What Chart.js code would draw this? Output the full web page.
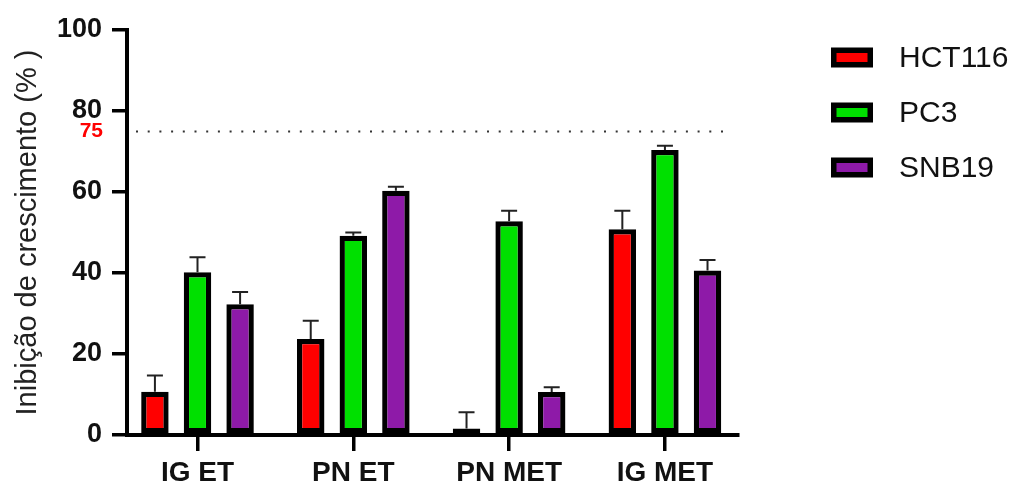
<!DOCTYPE html>
<html>
<head>
<meta charset="utf-8">
<script src="https://cdn.jsdelivr.net/npm/chart.js@4.4.1/dist/chart.umd.min.js"></script>
<style>
  html, body { margin: 0; padding: 0; background: #fff; }
  #wrap { width: 1017px; height: 485px; position: relative; }
</style>
</head>
<body>
<div id="wrap"><canvas id="c" width="1017" height="485"></canvas></div>
<script>
const categories = ['IG ET', 'PN ET', 'PN MET', 'IG MET'];
const seriesNames = ['HCT116', 'PC3', 'SNB19'];
const hct116 = [10.7, 23.7, 1.6, 50.8];
const pc3 = [40.2, 49.2, 52.8, 70.4];
const snb19 = [32.3, 60.3, 10.6, 40.6];
const hct116Err = [4.0, 4.5, 4.0, 4.6];
const pc3Err = [3.7, 0.8, 2.6, 1.0];
const snb19Err = [3.0, 1.0, 1.2, 2.6];
const yTicks = [0, 20, 40, 60, 80, 100];
const thresholdValue = 75;
const seriesColors = ['#ff0000', '#00e000', '#8e1aa8'];

const FONT = "'Liberation Sans', Arial, sans-serif";
const values = [hct116, pc3, snb19];
const errors = [hct116Err, pc3Err, snb19Err];

const datasets = values.map((vals, s) => ({
  label: seriesNames[s],
  data: vals.map((v, i) => ({ x: i, y: v })),
  backgroundColor: seriesColors[s],
  borderColor: '#000',
  borderWidth: 5.3,
  borderSkipped: false,
  categoryPercentage: 0.82,
  barPercentage: 0.645,
  errors: errors[s]
}));

const extras = {
  id: 'extras',
  afterDatasetsDraw(chart) {
    const ctx = chart.ctx;
    const y = chart.scales.y;
    ctx.save();
    chart.data.datasets.forEach((ds, di) => {
      const meta = chart.getDatasetMeta(di);
      meta.data.forEach((bar, i) => {
        const v = ds.data[i].y;
        const e = ds.errors[i];
        const yTop = y.getPixelForValue(v + e);
        ctx.strokeStyle = '#222';
        ctx.lineWidth = 2;
        ctx.beginPath();
        ctx.moveTo(bar.x, bar.y);
        ctx.lineTo(bar.x, yTop);
        ctx.moveTo(bar.x - 8, yTop);
        ctx.lineTo(bar.x + 8, yTop);
        ctx.stroke();
      });
    });
    // threshold dotted line
    const area = chart.chartArea;
    const ty = Math.round(y.getPixelForValue(thresholdValue)) + 0.5;
    ctx.strokeStyle = '#333';
    ctx.lineWidth = 2;
    ctx.setLineDash([2, 9.7]);
    ctx.beginPath();
    ctx.moveTo(area.left + 9, ty);
    ctx.lineTo(area.right - 9, ty);
    ctx.stroke();
    ctx.setLineDash([]);
    ctx.fillStyle = '#ff0000';
    ctx.font = 'bold 21px ' + FONT;
    ctx.textAlign = 'right';
    ctx.textBaseline = 'middle';
    ctx.fillText(String(thresholdValue), area.left - 24, ty);
    // legend
    chart.data.datasets.forEach((ds, di) => {
      const cy = 57.5 + di * 55;
      const bx = area.right + 93;
      ctx.fillStyle = '#000';
      ctx.fillRect(bx, cy - 10, 42, 20);
      ctx.fillStyle = ds.backgroundColor;
      ctx.fillRect(bx + 5.5, cy - 4.5, 31, 9);
      ctx.fillStyle = '#111';
      ctx.font = '30px ' + FONT;
      ctx.textAlign = 'left';
      ctx.textBaseline = 'middle';
      ctx.fillText(ds.label, bx + 68, cy + 1);
    });
    ctx.restore();
  }
};

new Chart(document.getElementById('c'), {
  type: 'bar',
  data: { datasets },
  options: {
    responsive: false,
    animation: false,
    layout: { padding: { top: 30, right: 279, bottom: 0, left: 0 } },
    plugins: { legend: { display: false }, tooltip: { enabled: false } },
    scales: {
      x: {
        type: 'linear',
        offset: false,
        min: -0.4525,
        max: 3.469,
        afterFit: (s) => { s.height = 50; },
        afterBuildTicks: (s) => { s.ticks = categories.map((c, i) => ({ value: i })); },
        ticks: {
          stepSize: 1,
          includeBounds: false,
          autoSkip: false,
          maxRotation: 0,
          padding: 5,
          color: '#111',
          font: { family: FONT, size: 28, weight: 'bold' },
          callback: (v) => categories[v] ?? ''
        },
        grid: { display: true, offset: false, drawOnChartArea: false, drawTicks: true, tickLength: 16, color: '#000', lineWidth: 3.5 },
        border: { display: true, color: '#000', width: 4 }
      },
      y: {
        min: 0,
        max: 100,
        afterFit: (s) => { s.width = 127; },
        afterBuildTicks: (s) => { s.ticks = yTicks.map(v => ({ value: v })); },
        ticks: {
          padding: 10,
          color: '#111',
          font: { family: FONT, size: 27, weight: 'bold' }
        },
        grid: { display: true, drawOnChartArea: false, drawTicks: true, tickLength: 15, color: '#000', lineWidth: 3.5 },
        border: { display: true, color: '#000', width: 4 },
        title: {
          display: true,
          text: 'Inibição de crescimento (% )',
          color: '#222',
          font: { family: FONT, size: 29 },
          padding: { top: 11, bottom: 0 }
        }
      }
    }
  },
  plugins: [extras]
});
</script>
</body>
</html>
